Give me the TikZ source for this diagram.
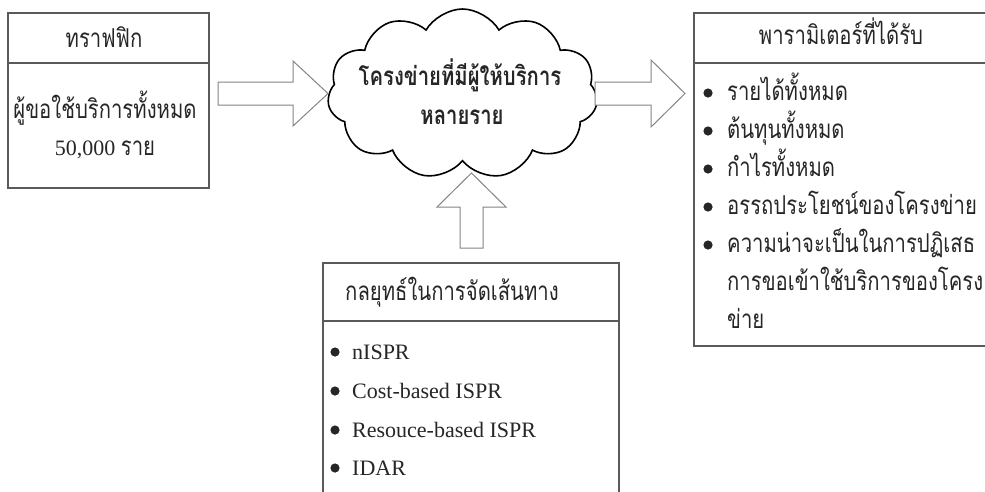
\documentclass[tikz,border=0pt]{standalone}
\usepackage{fontspec}
\setmainfont{Liberation Serif}
\newfontfamily\thai[Script=Thai,FakeStretch=0.78]{Loma}
\usetikzlibrary{shapes.symbols}
\definecolor{boxgray}{HTML}{5A5A5A}
\definecolor{arrgray}{HTML}{858585}
\definecolor{txt}{HTML}{262626}
\tikzset{
  boxline/.style={draw=boxgray, line width=1.2pt},
  blockarr/.style={draw=arrgray, line width=1pt, fill=white, line join=miter},
  netcloud/.style={cloud, cloud puffs=11, cloud puff arc=120, aspect=1.9,
    draw=black, line width=1.6pt, minimum width=270pt, minimum height=170pt, inner sep=0pt},
  thtxt/.style={font=\thai\fontsize{26}{30}\selectfont, text=txt, anchor=base, inner sep=0pt},
  thbold/.style={font=\thai\bfseries\fontsize{26}{30}\selectfont, text=txt, anchor=base, inner sep=0pt},
  latxt/.style={font=\fontsize{22}{26}\selectfont, text=txt, anchor=base, inner sep=0pt},
  bulletdot/.style={fill=txt},
}
\begin{document}
\begin{tikzpicture}[x=1pt, y=-1pt]
\useasboundingbox[fill=white] (0,0) rectangle (985,491);

% traffic box
\draw[boxline] (8,13) rectangle (209,188);
\draw[boxline] (8,63) -- (209,63);
\node[thtxt] (gfxT) at (104,47) {ทราฟฟิก};
\node[thtxt] (gfx1) at (105,118) {ผู้ขอใช้บริการทั้งหมด};
\node[latxt] (gfx2) at (105,155) {50,000 {\thai\fontsize{26}{30}\selectfont ราย}};

% network cloud
\node[netcloud] (net) at (462.5,94) {};
\node[thbold] (netT1) at (460,85) {โครงข่ายที่มีผู้ให้บริการ};
\node[thbold] (netT2) at (462,124) {หลายราย};

% block arrows
\draw[blockarr] (218,82) -- (293,82) -- (293,61) -- (328,93.5) -- (293,126) -- (293,105) -- (218,105) -- cycle;
\draw[blockarr] (595,82) -- (651,82) -- (651,60) -- (685,93.5) -- (651,127) -- (651,105) -- (595,105) -- cycle;
\draw[blockarr] (460,248) -- (460,207) -- (437,207) -- (471.5,173) -- (506,207) -- (483,207) -- (483,248) -- cycle;

% parameter box
\draw[boxline] (694,13) rectangle (1000,346);
\draw[boxline] (694,63) -- (1000,63);
\node[thtxt] (parT) at (841,44) {พารามิเตอร์ที่ได้รับ};
\node[thtxt, anchor=base west] (par1) at (727,100) {รายได้ทั้งหมด};
\node[thtxt, anchor=base west] (par2) at (727,138) {ต้นทุนทั้งหมด};
\node[thtxt, anchor=base west] (par3) at (727,176) {กำไรทั้งหมด};
\node[thtxt, anchor=base west] (par4) at (727,214) {อรรถประโยชน์ของโครงข่าย};
\node[thtxt, anchor=base west] (par5) at (727,252) {ความน่าจะเป็นในการปฏิเสธ};
\node[thtxt, anchor=base west] (par6) at (727,290) {การขอเข้าใช้บริการของโครง};
\node[thtxt, anchor=base west] (par7) at (727,328) {ข่าย};
\foreach \y in {93,131,169,207,245} \fill[bulletdot] (708,\y) circle (4.6pt);

% routing box
\draw[boxline] (323,263) rectangle (619,520);
\draw[boxline] (323,321) -- (619,321);
\node[thtxt] (rtT) at (452,300) {กลยุทธ์ในการจัดเส้นทาง};
\node[latxt, anchor=base west] (rt1) at (352,359) {nISPR};
\node[latxt, anchor=base west] (rt2) at (352,398) {Cost-based ISPR};
\node[latxt, anchor=base west] (rt3) at (352,437) {Resouce-based ISPR};
\node[latxt, anchor=base west] (rt4) at (352,475) {IDAR};
\foreach \y in {352,391,430,468} \fill[bulletdot] (335,\y) circle (4.6pt);
\end{tikzpicture}
\end{document}
